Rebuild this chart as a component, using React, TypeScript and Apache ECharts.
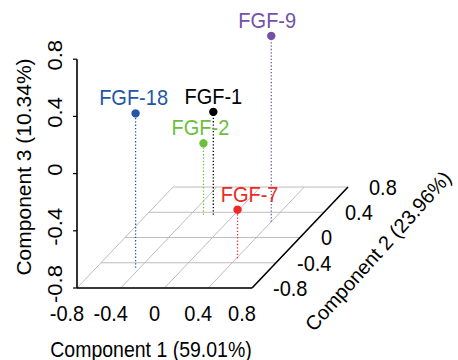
import React, { useEffect, useRef } from "react";
import * as echarts from "echarts";

// ---- data ----
const GENES = ["FGF-18", "FGF-1", "FGF-2", "FGF-9", "FGF-7"];
const COMPONENT_1 = [-0.44, -0.19, -0.28, 0.4, 0.41];
const COMPONENT_2 = [-0.48, 0.36, 0.36, 0.25, -0.33];
const COMPONENT_3 = [0.28, -0.08, -0.3, 0.5, -0.46];
const TICKS = [-0.8, -0.4, 0, 0.4, 0.8];
const TICK_LABELS = ["-0.8", "-0.4", "0", "0.4", "0.8"];
const AXIS_TITLES = ["Component 1 (59.01%)", "Component 2 (23.96%)", "Component 3 (10.34%)"];

// ---- styles / layout ----
const COLORS = ["#2356a6", "#000000", "#6bbf3c", "#7452a8", "#ee2a26"];
const LABEL_DX = [-2, 0, -3, -4, 12];
const FONT = '"Liberation Sans", Arial, sans-serif';
const GRID_COLOR = "#bdbdbd";
const STRETCH = 1.1;
// oblique projection: depth axis (Component 2) shifts right & up
const CX = 60 / 109.4;
const CZ = 63.1 / 143;
const LO = -0.8;
const HI = 0.8;
const proj = (x: number, y: number, z: number) => [x + y * CX, z + y * CZ];

const textStyle = (text: string, align: string, size: number, fill = "#000") => ({
  text,
  fill,
  font: `${size}px ${FONT}`,
  align,
  textAlign: align,
  verticalAlign: "middle",
  textVerticalAlign: "middle",
});

export default function App() {
  const ref = useRef<HTMLDivElement>(null);
  useEffect(() => {
    if (!ref.current) return;
    const chart = echarts.init(ref.current, undefined, { renderer: "svg" });
    const xMin = LO * (1 + CX);
    const xMax = HI * (1 + CX);
    const yMin = LO * (1 + CZ);
    const yMax = yMin + 2;

    const frameItem = (params: any, api: any) => {
      const t = api.value(0);
      const i = params.dataIndex;
      const c = (x: number, y: number, z: number) => api.coord(proj(x, y, z));
      const xg0 = c(t, LO, LO), xg1 = c(t, HI, LO);
      const yg0 = c(LO, t, LO), yg1 = c(HI, t, LO);
      const zt = c(LO, LO, t);
      return {
        type: "group",
        children: [
          { type: "line", shape: { x1: xg0[0], y1: xg0[1], x2: xg1[0], y2: xg1[1] }, style: { stroke: GRID_COLOR, lineWidth: 1 } },
          { type: "line", shape: { x1: yg0[0], y1: yg0[1], x2: yg1[0], y2: yg1[1] }, style: { stroke: GRID_COLOR, lineWidth: 1 } },
          { type: "line", shape: { x1: zt[0] - 4, y1: zt[1], x2: zt[0], y2: zt[1] }, style: { stroke: "#000", lineWidth: 1.2 } },
          { type: "text", x: xg0[0] - 10, y: xg0[1] + 25, scaleY: STRETCH, style: textStyle(TICK_LABELS[i], "center", 20) },
          { type: "text", x: yg1[0] + 21, y: yg1[1], scaleY: STRETCH, style: textStyle(TICK_LABELS[i], "left", 20) },
          { type: "text", x: zt[0] - 22, y: zt[1] - 4, rotation: Math.PI / 2, scaleX: STRETCH, style: textStyle(TICK_LABELS[i], "center", 20) },
        ],
      };
    };

    const axesItem = (_params: any, api: any) => {
      const c = (x: number, y: number, z: number) => api.coord(proj(x, y, z));
      const o = c(LO, LO, LO);
      const zTop = c(LO, LO, HI);
      const xEnd = c(HI, LO, LO);
      const yEnd = c(HI, HI, LO);
      const st = { stroke: "#000", lineWidth: 1.6 };
      return {
        type: "group",
        children: [
          { type: "line", shape: { x1: o[0], y1: o[1], x2: zTop[0], y2: zTop[1] }, style: st },
          { type: "line", shape: { x1: o[0], y1: o[1], x2: xEnd[0], y2: xEnd[1] }, style: st },
          { type: "line", shape: { x1: xEnd[0], y1: xEnd[1], x2: yEnd[0], y2: yEnd[1] }, style: st },
        ],
      };
    };

    const pointItem = (params: any, api: any) => {
      const i = params.dataIndex;
      const x = api.value(0), y = api.value(1), z = api.value(2);
      const p = api.coord(proj(x, y, z));
      const b = api.coord(proj(x, y, LO));
      const color = COLORS[i];
      return {
        type: "group",
        children: [
          { type: "line", shape: { x1: b[0], y1: b[1], x2: p[0], y2: p[1] }, style: { stroke: color, lineWidth: 1.3, lineDash: [1.3, 2] } },
          { type: "circle", shape: { cx: p[0], cy: p[1], r: 4.2 }, style: { fill: color } },
          {
            type: "text",
            x: p[0] + LABEL_DX[i],
            y: p[1] - 16,
            scaleY: STRETCH,
            style: textStyle(GENES[i], "center", 20, color),
          },
        ],
      };
    };

    chart.setOption({
      animation: false,
      grid: { left: 77, top: 2, width: 271, height: 286, outerBoundsMode: "none" },
      xAxis: { type: "value", min: xMin, max: xMax, show: false },
      yAxis: { type: "value", min: yMin, max: yMax, show: false },
      graphic: [
        { type: "text", x: 151, y: 349, scaleY: STRETCH, style: textStyle(AXIS_TITLES[0], "center", 19.5) },
        { type: "text", x: 378, y: 251, rotation: (48 * Math.PI) / 180, style: textStyle(AXIS_TITLES[1], "center", 20) },
        { type: "text", x: 23, y: 167, rotation: Math.PI / 2, style: textStyle(AXIS_TITLES[2], "center", 21) },
      ],
      series: [
        { type: "custom", name: "frame", renderItem: frameItem, data: TICKS.map((t) => [t, 0]), z: 1, silent: true },
        { type: "custom", name: "axes", renderItem: axesItem, data: [[0, 0]], z: 2, silent: true },
        {
          type: "custom",
          name: "genes",
          renderItem: pointItem,
          dimensions: ["c1", "c2", "c3"],
          encode: { x: 0, y: 1 },
          data: GENES.map((_, i) => [COMPONENT_1[i], COMPONENT_2[i], COMPONENT_3[i]]),
          z: 3,
        },
      ],
    });
    return () => chart.dispose();
  }, []);
  return <div ref={ref} style={{ position: "absolute", left: 0, top: 0, width: 458, height: 360 }} />;
}
